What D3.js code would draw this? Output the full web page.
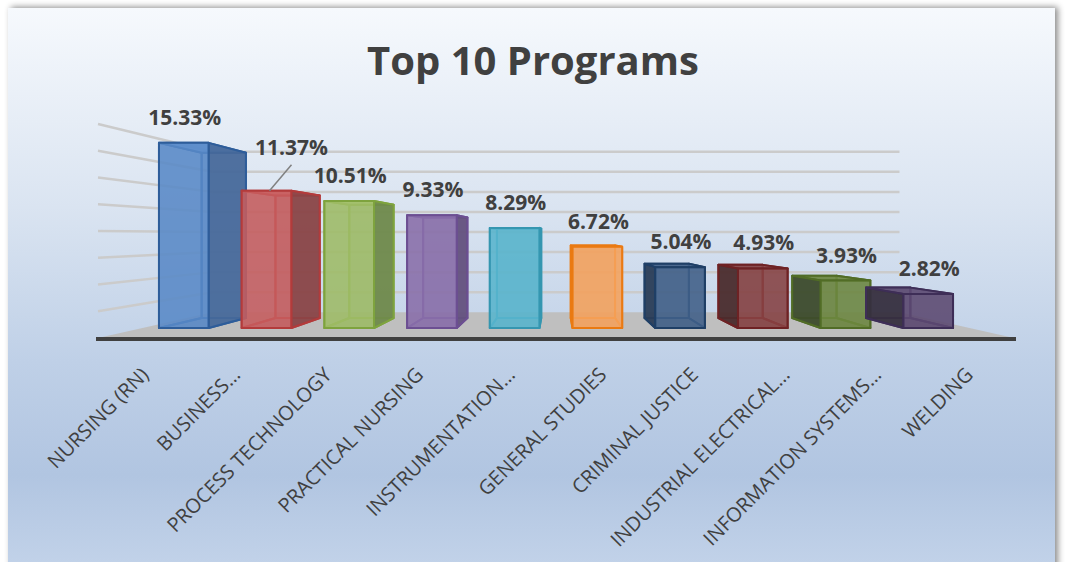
<!DOCTYPE html>
<html>
<head>
<meta charset="utf-8">
<script src="https://d3js.org/d3.v7.min.js"></script>
<style>
    body { margin: 0; background: #ffffff; }
    svg { display: block; }
    text { font-family: "Open Sans", "Noto Sans", sans-serif; fill: #404040; }
</style>
</head>
<body>
<svg id="drawing_region"></svg>
<script>
const programs = ['NURSING (RN)', 'BUSINESS\u2026', 'PROCESS TECHNOLOGY', 'PRACTICAL NURSING',
    'INSTRUMENTATION\u2026', 'GENERAL STUDIES', 'CRIMINAL JUSTICE', 'INDUSTRIAL ELECTRICAL\u2026',
    'INFORMATION SYSTEMS\u2026', 'WELDING'];
const shares = [15.33, 11.37, 10.51, 9.33, 8.29, 6.72, 5.04, 4.93, 3.93, 2.82];
const gridTicks = [2, 4, 6, 8, 10, 12, 14, 16];

// colours: front face, side face, edge
const frontColors = ['#5b8cca', '#c95f60', '#a2c06a', '#8c72ad', '#5cb8d1', '#f8a661', '#43638c', '#8b4446', '#708b42', '#5f4c75'];
const sideColors  = ['#47699a', '#8a4547', '#6f8a4b', '#64517e', '#3f8aa0', '#c07b3e', '#2a3d58', '#4a2c2e', '#3d4b2c', '#36303f'];
const edgeColors  = ['#2e5d9a', '#b33b3b', '#7ea33e', '#6c4f92', '#3596b0', '#ea7a12', '#1f3f66', '#6e2224', '#516c26', '#3e2e57'];

var config = {
    parent: '#drawing_region',
    width: 1065,
    height: 562,
    plane: {left: 98, right: 1014, top: 124, bottom: 338},   // front plane of the 3D box
    vp: {x: 556, y: 235},                                     // vanishing point
    depth: {back: 0.75, barFront: 0.903, barBack: 0.806}      // perspective scale factors
};

class Bar3D {

    constructor( config, data ) {
        this.config = config;
        this.data = data;
        this.init();
    }

    init() {
        let self = this;

        self.svg = d3.select( self.config.parent )
            .attr('width', self.config.width)
            .attr('height', self.config.height);

        const defs = self.svg.append('defs');
        const grad = defs.append('linearGradient')
            .attr('id', 'bg')
            .attr('x1', 0).attr('y1', 0).attr('x2', 0).attr('y2', 1);
        [[0, '#f6f9fd'], [0.35, '#dae4f1'], [0.62, '#bfd0e7'], [0.82, '#b1c5e1'], [1, '#c4d4ea']]
            .forEach( s => grad.append('stop').attr('offset', s[0]).attr('stop-color', s[1]) );

        const shadow = defs.append('filter')
            .attr('id', 'shadow')
            .attr('x', -0.05).attr('y', -0.05).attr('width', 1.1).attr('height', 1.1);
        shadow.append('feDropShadow')
            .attr('dx', 3).attr('dy', -1)
            .attr('stdDeviation', 3)
            .attr('flood-color', '#000')
            .attr('flood-opacity', 0.45);

        self.svg.append('rect')
            .attr('x', 8).attr('y', 8)
            .attr('width', 1047).attr('height', 570)
            .attr('fill', 'url(#bg)')
            .attr('filter', 'url(#shadow)');

        self.svg.append('text')
            .attr('x', 533)
            .attr('y', 75)
            .attr('text-anchor', 'middle')
            .attr('font-size', '40px')
            .attr('font-weight', 700)
            .text('Top 10 Programs');

        self.chart = self.svg.append('g');

        self.xscale = d3.scaleBand()
            .domain( self.data.map( d => d.name ) )
            .range( [self.config.plane.left, self.config.plane.right] )
            .paddingInner(0.4)
            .paddingOuter(0.2);

        self.yscale = d3.scaleLinear()
            .domain( [0, 16] )
            .range( [self.config.plane.bottom, self.config.plane.top] );
    }

    project( x, y, s ) {
        const vp = this.config.vp;
        return [vp.x + s * (x - vp.x), vp.y + s * (y - vp.y)];
    }

    render() {
        let self = this;
        const P = (x, y, s) => self.project(x, y, s);
        const line = pts => 'M' + pts.map( p => p.join(',') ).join('L') + 'Z';
        const L = self.config.plane.left, R = self.config.plane.right;
        const y0 = self.yscale(0);
        const sBack = self.config.depth.back;
        const sF = self.config.depth.barFront, sB = self.config.depth.barBack;

        // floor
        self.chart.append('path')
            .attr('d', line([P(L, y0, 1), P(R, y0, 1), P(R, y0, sBack), P(L, y0, sBack)]))
            .attr('fill', '#bfbfbf');

        // side wall and back wall gridlines
        const grid = self.chart.append('g')
            .attr('stroke', '#cbcbcb')
            .attr('stroke-width', 2.5)
            .attr('fill', 'none');
        grid.selectAll('.side')
            .data(gridTicks)
            .join('line')
            .attr('x1', d => P(L, self.yscale(d), 1)[0])
            .attr('y1', d => P(L, self.yscale(d), 1)[1])
            .attr('x2', d => P(L, self.yscale(d), sBack)[0])
            .attr('y2', d => P(L, self.yscale(d), sBack)[1]);
        grid.selectAll('.back')
            .data(gridTicks)
            .join('line')
            .attr('x1', d => P(L, self.yscale(d), sBack)[0])
            .attr('y1', d => P(L, self.yscale(d), sBack)[1])
            .attr('x2', d => P(R, self.yscale(d), sBack)[0])
            .attr('y2', d => P(R, self.yscale(d), sBack)[1]);

        // front edge of floor
        self.chart.append('line')
            .attr('x1', L - 2).attr('x2', R + 2)
            .attr('y1', y0 + 1).attr('y2', y0 + 1)
            .attr('stroke', '#404040')
            .attr('stroke-width', 4);

        // bars
        self.data.forEach( (d, i) => {
            const xl = self.xscale(d.name), xr = xl + self.xscale.bandwidth();
            const y1 = self.yscale(d.value);
            const g = self.chart.append('g')
                .attr('stroke', edgeColors[i])
                .attr('stroke-width', 2)
                .attr('stroke-linejoin', 'round');
            const rightVisible = (xl + xr) / 2 < self.config.vp.x;
            const faces = {
                back:   [P(xl, y0, sB), P(xr, y0, sB), P(xr, y1, sB), P(xl, y1, sB)],
                bottom: [P(xl, y0, sF), P(xr, y0, sF), P(xr, y0, sB), P(xl, y0, sB)],
                top:    [P(xl, y1, sF), P(xr, y1, sF), P(xr, y1, sB), P(xl, y1, sB)],
                left:   [P(xl, y0, sF), P(xl, y0, sB), P(xl, y1, sB), P(xl, y1, sF)],
                right:  [P(xr, y0, sF), P(xr, y0, sB), P(xr, y1, sB), P(xr, y1, sF)],
                front:  [P(xl, y0, sF), P(xr, y0, sF), P(xr, y1, sF), P(xl, y1, sF)]
            };
            const order = [
                ['back', sideColors[i], 0.5],
                ['bottom', sideColors[i], 0.5],
                [rightVisible ? 'left' : 'right', sideColors[i], 0.4],
                ['top', frontColors[i], 0.85],
                [rightVisible ? 'right' : 'left', sideColors[i], 0.9],
                ['front', frontColors[i], 0.82]
            ];
            order.forEach( f => {
                g.append('path')
                    .attr('d', line(faces[f[0]]))
                    .attr('fill', f[1])
                    .attr('fill-opacity', f[2]);
            });
        });

        // data labels
        const moved = {index: 1, dx: 24, dy: -18};
        self.data.forEach( (d, i) => {
            const xl = self.xscale(d.name), xr = xl + self.xscale.bandwidth();
            const top = P((xl + xr) / 2, self.yscale(d.value), sF);
            let lx = top[0] + 1, ly = top[1] - 18;
            if (i === moved.index) {
                lx += moved.dx; ly += moved.dy;
                self.chart.append('line')
                    .attr('x1', lx).attr('y1', ly + 10)
                    .attr('x2', top[0] + 3).attr('y2', top[1])
                    .attr('stroke', '#808080')
                    .attr('stroke-width', 1.5);
            }
            self.chart.append('text')
                .attr('x', lx)
                .attr('y', ly)
                .attr('text-anchor', 'middle')
                .attr('font-size', '21px')
                .attr('font-weight', 700)
                .text(d.value.toFixed(2) + '%');
        });

        // category labels
        self.chart.selectAll('.cat')
            .data(self.data)
            .join('text')
            .attr('class', 'cat')
            .attr('text-anchor', 'end')
            .attr('font-size', '20px')
            .attr('transform', d => `translate(${self.xscale(d.name) + self.xscale.bandwidth() / 2 + 6}, 376) rotate(-45)`)
            .text(d => d.name);
    }
}

const data = programs.map( (p, i) => ({name: p, value: shares[i]}) );
const bar_chart = new Bar3D( config, data );
bar_chart.render();
</script>
</body>
</html>
